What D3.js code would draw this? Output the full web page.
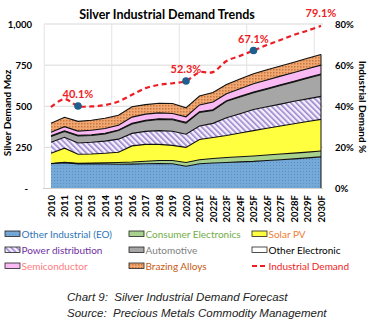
<!DOCTYPE html>
<html lang="en">
<head>
<meta charset="utf-8">
<title>Silver Industrial Demand Trends</title>
<script src="https://d3js.org/d3.v7.min.js"></script>
<style>
  body { margin: 0; background: #fff; }
  text { font-family: "Lato", "Liberation Sans", sans-serif; }
  .caption { font-family: "Liberation Sans", sans-serif; white-space: pre; }
</style>
</head>
<body>
<div id="chart"></div>
<script type="text/javascript">
	// data (Moz per year, stacked bottom-up)
	var years = ['2010','2011','2012','2013','2014','2015','2016','2017','2018','2019','2020',
	             '2021F','2022F','2023F','2024F','2025F','2026F','2027F','2028F','2029F','2030F'];
	var otherIndustrial = [150,157,150,150,149,147,148,150,152,150,135,150,155,158,162,165,170,175,180,186,192];
	var consumerElec    = [2,2,3,4,7,11,13,16,18,20,23,25,27,30,31,33,34,35,35,35,36];
	var solarPV         = [62,86,55,56,58,62,98,102,98,92,92,123,128,134,144,154,162,170,179,186,192];
	var powerDist       = [67,66,69,71,74,80,76,79,84,86,80,82,86,108,118,128,131,133,136,138,140];
	var automotive      = [35,35,42,41,44,52,57,63,68,70,68,83,79,100,101,102,107,113,118,125,132];
	var otherElec       = [4,4,4,4,4,4,4,4,4,4,4,4,4,4,4,4,4,4,4,4,4];
	var semiconductor   = [22,26,26,28,29,29,38,38,36,34,34,41,47,42,46,51,52,53,53,54,54];
	var brazing         = [54,57,59,61,62,60,63,58,58,61,54,54,57,56,59,61,62,62,63,64,65];
	var industrialPct   = [39.6,43.5,40.1,39.9,40.6,42.3,45.6,48.8,50.4,51.2,52.3,56.5,56.6,62.0,64.5,67.1,69.8,72.2,74.7,76.8,79.1];
	var labelYears = ['2012','2020','2025F','2030F'];
	var dotYears = ['2012','2020','2025F'];
	var leftTicks = [0,250,500,750,1000];
	var rightTicks = [0,20,40,60,80];

	var seriesNames = ['Other Industrial (EO)','Consumer Electronics','Solar PV','Power distribution',
	                   'Automotive','Other Electronic','Semiconductor','Brazing Alloys'];
	var seriesData = [otherIndustrial, consumerElec, solarPV, powerDist, automotive, otherElec, semiconductor, brazing];
	var fills = ['url(#p_blue)','#a9d18e','#ffff40','url(#p_hatch)','#a6a6a6','#ffffff','#f9b9f2','url(#p_orange)'];
	var textColors = ['#2e75b6','#70ad47','#ed7d31','#7030a0','#7f7f7f','#000000','#ff7c80','#c55a11'];

	var W = 371, H = 321;
	var svg = d3.select('#chart').append('svg')
		.attr('width', W).attr('height', H);

	// patterns
	var defs = svg.append('defs');
	var pb = defs.append('pattern').attr('id','p_blue').attr('width',3).attr('height',3)
		.attr('patternUnits','userSpaceOnUse');
	pb.append('rect').attr('width',3).attr('height',3).attr('fill','#74a9d8');
	pb.append('rect').attr('width',1).attr('height',1).attr('fill','#5b8fc4');
	var ph = defs.append('pattern').attr('id','p_hatch').attr('width',4).attr('height',4)
		.attr('patternUnits','userSpaceOnUse').attr('patternTransform','rotate(-45)');
	ph.append('rect').attr('width',4).attr('height',4).attr('fill','#f4f0fb');
	ph.append('rect').attr('width',1.6).attr('height',4).attr('fill','#9b84cf');
	var po = defs.append('pattern').attr('id','p_orange').attr('width',3).attr('height',3)
		.attr('patternUnits','userSpaceOnUse');
	po.append('rect').attr('width',3).attr('height',3).attr('fill','#f0a873');
	po.append('rect').attr('width',1.5).attr('height',1.5).attr('fill','#c9753d');

	var x = d3.scalePoint().domain(years).range([51, 321]);
	var step = x.step();
	var y = d3.scaleLinear().domain([0, 1000]).range([188.5, 24]);
	var yr = d3.scaleLinear().domain([0, 80]).range([188.5, 24]);

	// gridlines
	var grid = svg.append('g');
	grid.selectAll('line.h').data(leftTicks.slice(1)).enter().append('line')
		.attr('x1', x('2010') - step / 2).attr('x2', 323)
		.attr('y1', function(d){ return y(d); }).attr('y2', function(d){ return y(d); })
		.attr('stroke', '#d9d9d9').attr('stroke-width', 1);
	grid.selectAll('line.v').data([0,5,10,15,20]).enter().append('line')
		.attr('x1', function(d){ return x(years[0]) + (d - 0.5) * step; })
		.attr('x2', function(d){ return x(years[0]) + (d - 0.5) * step; })
		.attr('y1', y(1000)).attr('y2', y(0))
		.attr('stroke', '#e3e3e3').attr('stroke-width', 1);

	// stacked areas
	var rows = years.map(function(yv, i){
		var r = {year: yv};
		seriesNames.forEach(function(n, k){ r[n] = seriesData[k][i]; });
		return r;
	});
	var stack = d3.stack().keys(seriesNames)(rows);
	var area = d3.area()
		.x(function(d){ return x(d.data.year); })
		.y0(function(d){ return y(d[0]); })
		.y1(function(d){ return y(d[1]); });
	var topLine = d3.line()
		.x(function(d){ return x(d.data.year); })
		.y(function(d){ return y(d[1]); });

	svg.append('g').selectAll('path').data(stack).enter().append('path')
		.attr('d', area)
		.attr('fill', function(d, i){ return fills[i]; });
	svg.append('g').selectAll('path').data(stack).enter().append('path')
		.attr('d', topLine)
		.attr('fill', 'none').attr('stroke', '#111').attr('stroke-width', 1.1);
	// right edge of stack
	svg.append('line')
		.attr('x1', x('2030F')).attr('x2', x('2030F'))
		.attr('y1', y(0)).attr('y2', y(stack[stack.length-1][years.length-1][1]))
		.attr('stroke', '#111').attr('stroke-width', 1);

	// x axis baseline
	svg.append('line').attr('x1', 43).attr('x2', 323)
		.attr('y1', y(0)).attr('y2', y(0))
		.attr('stroke', '#d0d0d0').attr('stroke-width', 1);

	// x labels
	svg.append('g').selectAll('text').data(years).enter().append('text')
		.attr('transform', function(d){ return 'translate(' + (x(d) + 3.5) + ',195) rotate(-90)'; })
		.attr('text-anchor', 'end')
		.style('font-size', '9.5px').style('font-weight', 'bold')
		.text(function(d){ return d; });

	// left axis
	svg.append('g').selectAll('text').data(leftTicks).enter().append('text')
		.attr('x', function(d){ return d === 0 ? 28 : 32; })
		.attr('y', function(d){ return y(d) + 3.5; })
		.attr('text-anchor', 'end')
		.style('font-size', '9.5px').style('font-weight', 'bold')
		.text(function(d){ return d === 0 ? '-' : d3.format(',')(d); });
	svg.append('text')
		.attr('transform', 'translate(11,113) rotate(-90)')
		.attr('text-anchor', 'middle')
		.style('font-size', '10px').style('font-weight', 'bold')
		.text('Silver Demand Moz');

	// right axis
	svg.append('g').selectAll('text').data(rightTicks).enter().append('text')
		.attr('x', 335)
		.attr('y', function(d){ return yr(d) + 3.5; })
		.style('font-size', '9.5px').style('font-weight', 'bold')
		.text(function(d){ return d + '%'; });
	svg.append('text')
		.attr('transform', 'translate(359,107) rotate(90)')
		.attr('text-anchor', 'middle')
		.style('font-size', '10px').style('font-weight', 'bold')
		.text('Industrial Demand %');

	// industrial demand line
	var pctLine = d3.line()
		.x(function(d, i){ return x(years[i]); })
		.y(function(d){ return yr(d); })
		.curve(d3.curveCatmullRom.alpha(0.5));
	svg.append('path').datum(industrialPct)
		.attr('d', pctLine)
		.attr('fill', 'none').attr('stroke', '#ee1c25')
		.attr('stroke-width', 2.2).attr('stroke-dasharray', '5,3.5');

	svg.append('g').selectAll('circle').data(dotYears).enter().append('circle')
		.attr('cx', function(d){ return x(d); })
		.attr('cy', function(d){ return yr(industrialPct[years.indexOf(d)]); })
		.attr('r', 3.8).attr('fill', '#1f5f8f');

	svg.append('g').selectAll('text').data(labelYears).enter().append('text')
		.attr('x', function(d){ return x(d); })
		.attr('y', function(d){ return yr(industrialPct[years.indexOf(d)]) - (d === '2030F' ? 9 : 8); })
		.attr('text-anchor', 'middle')
		.style('font-size', '11px').style('font-weight', 'bold').style('fill', '#ee1c25')
		.text(function(d){ return industrialPct[years.indexOf(d)].toFixed(1) + '%'; });

	// title
	svg.append('text')
		.attr('x', 167).attr('y', 19)
		.attr('text-anchor', 'middle')
		.style('font-size', '12.5px').style('font-weight', 'bold')
		.text('Silver Industrial Demand Trends');

	// legend
	var legX = [5, 129, 252], legY = [234, 250, 266];
	var leg = svg.append('g');
	seriesNames.forEach(function(n, k){
		var lx = legX[k % 3], ly = legY[Math.floor(k / 3)];
		leg.append('rect').attr('x', lx).attr('y', ly - 3).attr('width', 15).attr('height', 5.5)
			.attr('fill', fills[k]).attr('stroke', '#222').attr('stroke-width', 0.8);
		leg.append('text').attr('x', lx + 16.5).attr('y', ly + 3.5)
			.style('font-size', '10px').style('fill', textColors[k])
			.text(n);
	});
	var ilx = legX[2], ily = legY[2];
	leg.append('line').attr('x1', ilx).attr('x2', ilx + 15).attr('y1', ily).attr('y2', ily)
		.attr('stroke', '#ee1c25').attr('stroke-width', 2.2).attr('stroke-dasharray', '5,3');
	leg.append('text').attr('x', ilx + 16.5).attr('y', ily + 3.5)
		.style('font-size', '10px').style('fill', '#ee1c25')
		.text('Industrial Demand');

	// caption
	svg.append('text').attr('class', 'caption').attr('x', 67).attr('y', 301)
		.style('font-size', '11.5px').style('font-style', 'italic').style('fill', '#222')
		.text('Chart 9:  Silver Industrial Demand Forecast');
	svg.append('text').attr('class', 'caption').attr('x', 67).attr('y', 317)
		.style('font-size', '11.5px').style('font-style', 'italic').style('fill', '#222')
		.text('Source:  Precious Metals Commodity Management');
</script>
</body>
</html>
